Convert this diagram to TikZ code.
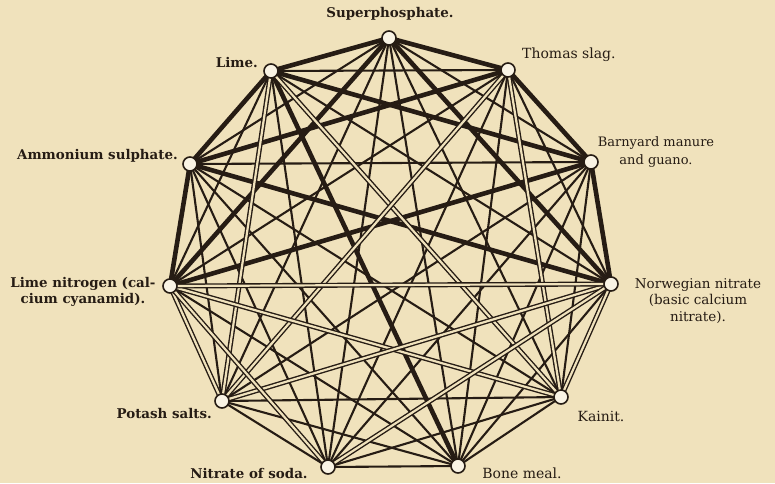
\documentclass[tikz,border=0pt]{standalone}
\usepackage{fontspec}
\setmainfont{DejaVu Serif}
\definecolor{bg}{RGB}{240,226,188}
\definecolor{ink}{RGB}{38,28,20}
\begin{document}
\begin{tikzpicture}[x=1pt,y=-1pt,
  thickedge/.style={draw=ink,line width=4.6pt},
  thinedge/.style={draw=ink,line width=2.1pt},
  dbledge/.style={draw=ink,line width=1.4pt,double=bg,double distance=2.2pt},
  vert/.style={circle,draw=ink,line width=1.6pt,fill=white!60!bg,minimum size=14pt,inner sep=0pt},
  lab/.style={font=\fontsize{14}{17}\selectfont,text=ink,inner sep=0pt,align=center},
  blab/.style={font=\fontsize{13.4}{16}\selectfont\bfseries,text=ink,inner sep=0pt,align=center}]
\fill[bg] (0,0) rectangle (775,483);
\useasboundingbox (0,0) rectangle (775,483);
\coordinate (S) at (389,38);
\coordinate (T) at (508,70);
\coordinate (B) at (591,162);
\coordinate (N) at (611,284);
\coordinate (K) at (561,397);
\coordinate (BM) at (458,466);
\coordinate (NS) at (328,467);
\coordinate (P) at (222,401);
\coordinate (LN) at (170,286);
\coordinate (A) at (190,164);
\coordinate (L) at (271,71);
% thin lines
\foreach \a/\b in {S/B,S/K,S/BM,S/NS,S/P,S/A,T/N,T/BM,T/NS,T/LN,T/L,B/K,B/BM,B/NS,B/P,B/A,N/BM,N/L,K/BM,K/NS,K/P,K/A,BM/NS,BM/P,BM/LN,BM/A,NS/P,NS/A,NS/L,P/A,LN/L}
  \draw[thinedge] (\a) -- (\b);
% thick lines
\foreach \a/\b in {S/T,S/N,S/LN,S/L,T/B,T/A,B/N,B/LN,B/L,N/A,BM/L,LN/A,A/L}
  \draw[thickedge] (\a) -- (\b);
% double lines
\foreach \a/\b in {L/P,L/K,T/P,T/K,LN/P,LN/K,N/P,N/K,LN/N,LN/NS,NS/N}
  \draw[dbledge] (\a) -- (\b);
% vertices
\foreach \v in {S,T,B,N,K,BM,NS,P,LN,A,L}
  \node[vert] (v\v) at (\v) {};
% labels
\node[blab] (lS) at (390,14) {Superphosphate.};
\node[blab,anchor=east] (lL) at (258,62) {Lime.};
\node[lab,anchor=west] (lT) at (522,55) {Thomas slag.};
\node[blab,anchor=east] (lA) at (178,156) {Ammonium sulphate.};
\node[lab,font=\fontsize{13}{18}\selectfont] (lB) at (656,152) {Barnyard manure\\and guano.};
\node[blab] (lLN) at (83,292) {Lime nitrogen (cal-\\cium cyanamid).};
\node[lab,font=\fontsize{13.5}{16.5}\selectfont] (lN) at (698,301) {Norwegian nitrate\\(basic calcium\\nitrate).};
\node[blab,anchor=east] (lP) at (212,413) {Potash salts.};
\node[lab] (lK) at (601,416) {Kainit.};
\node[blab] (lNS) at (249,473) {Nitrate of soda.};
\node[lab] (lBM) at (522,473) {Bone meal.};
\end{tikzpicture}
\end{document}
